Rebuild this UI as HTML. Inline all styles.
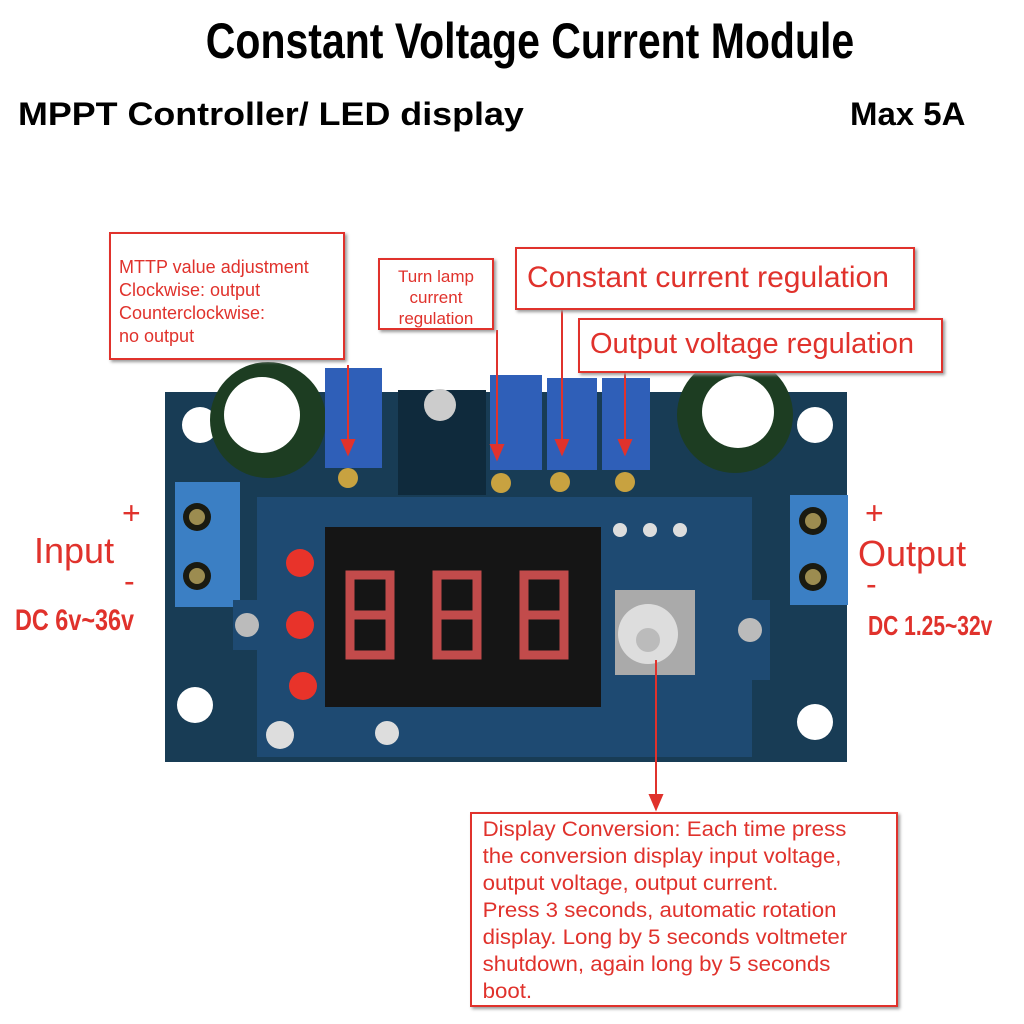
<!DOCTYPE html>
<html><head><style>
body{margin:0;width:1024px;height:1024px;background:#fff;overflow:hidden;position:relative;font-family:"Liberation Sans",sans-serif}
.t{position:absolute;white-space:nowrap}
.box{position:absolute;border:2px solid #e0322c;box-shadow:2px 2px 3px #999;background:#fff;color:#e0322c}
</style></head><body>
<div class="t" style="left:0;width:1060px;text-align:center;top:12px;font-size:50px;font-weight:bold;transform:scaleX(0.82);transform-origin:530px 0">Constant Voltage Current Module</div>
<div class="t" style="left:18px;top:96px;font-size:32px;font-weight:bold;transform:scaleX(1.12);transform-origin:0 0">MPPT Controller/ LED display</div>
<div class="t" style="left:850px;top:96px;font-size:32px;font-weight:bold;transform:scaleX(1.03);transform-origin:0 0">Max 5A</div>

<svg style="position:absolute;left:0;top:0" width="1024" height="1024">
<rect x="165" y="392" width="682" height="370" fill="#183c55"/>
<circle cx="200" cy="425" r="18" fill="#fff"/>
<circle cx="815" cy="425" r="18" fill="#fff"/>
<circle cx="195" cy="705" r="18" fill="#fff"/>
<circle cx="815" cy="722" r="18" fill="#fff"/>
<circle cx="268" cy="420" r="58" fill="#1d3d22"/>
<circle cx="262" cy="415" r="38" fill="#fff"/>
<circle cx="735" cy="415" r="58" fill="#1d3d22"/>
<circle cx="738" cy="412" r="36" fill="#fff"/>
<rect x="325" y="368" width="57" height="100" fill="#2f5fb8"/>
<rect x="490" y="375" width="52" height="95" fill="#2f5fb8"/>
<rect x="547" y="378" width="50" height="92" fill="#2f5fb8"/>
<rect x="602" y="378" width="48" height="92" fill="#2f5fb8"/>
<rect x="398" y="390" width="88" height="105" fill="#0f2a3c"/>
<circle cx="440" cy="405" r="16" fill="#ccc"/>
<circle cx="348" cy="478" r="10" fill="#c8a240"/>
<circle cx="501" cy="483" r="10" fill="#c8a240"/>
<circle cx="560" cy="482" r="10" fill="#c8a240"/>
<circle cx="625" cy="482" r="10" fill="#c8a240"/>
<rect x="175" y="482" width="65" height="125" fill="#3b7fc4"/>
<circle cx="197" cy="517" r="14" fill="#1a1a10"/><circle cx="197" cy="576" r="14" fill="#1a1a10"/>
<circle cx="197" cy="517" r="8" fill="#9c8c50"/><circle cx="197" cy="576" r="8" fill="#9c8c50"/>
<rect x="790" y="495" width="58" height="110" fill="#3b7fc4"/>
<circle cx="813" cy="521" r="14" fill="#1a1a10"/><circle cx="813" cy="577" r="14" fill="#1a1a10"/>
<circle cx="813" cy="521" r="8" fill="#9c8c50"/><circle cx="813" cy="577" r="8" fill="#9c8c50"/>
<rect x="257" y="497" width="495" height="260" fill="#1e4a72"/>
<rect x="233" y="600" width="40" height="50" fill="#1e4a72"/>
<rect x="730" y="600" width="40" height="80" fill="#1e4a72"/>
<circle cx="247" cy="625" r="12" fill="#bbb"/><circle cx="750" cy="630" r="12" fill="#bbb"/>
<rect x="325" y="527" width="276" height="180" fill="#151515"/>
<g stroke="#e05555" stroke-width="9" fill="none" opacity="0.85">
<path d="M350 575h40v40h-40zM350 615v40h40v-40"/>
<path d="M437 575h40v40h-40zM437 615v40h40v-40"/>
<path d="M524 575h40v40h-40zM524 615v40h40v-40"/>
</g>
<circle cx="300" cy="563" r="14" fill="#e8332a"/><circle cx="300" cy="625" r="14" fill="#e8332a"/><circle cx="303" cy="686" r="14" fill="#e8332a"/>
<rect x="615" y="590" width="80" height="85" fill="#aaa"/>
<circle cx="648" cy="634" r="30" fill="#ddd"/><circle cx="648" cy="640" r="12" fill="#bbb"/>
<circle cx="620" cy="530" r="7" fill="#ddd"/><circle cx="650" cy="530" r="7" fill="#ddd"/><circle cx="680" cy="530" r="7" fill="#ddd"/>
<circle cx="280" cy="735" r="14" fill="#ddd"/><circle cx="387" cy="733" r="12" fill="#ddd"/>
<g stroke="#e0322c" stroke-width="2" fill="#e0322c">
<line x1="348" y1="365" x2="348" y2="445"/><path d="M342 440l6 14 6-14z"/>
<line x1="497" y1="330" x2="497" y2="450"/><path d="M491 445l6 14 6-14z"/>
<line x1="562" y1="310" x2="562" y2="445"/><path d="M556 440l6 14 6-14z"/>
<line x1="625" y1="372" x2="625" y2="445"/><path d="M619 440l6 14 6-14z"/>
<line x1="656" y1="660" x2="656" y2="800"/><path d="M650 795l6 14 6-14z"/>
</g>
</svg>

<div class="box" style="left:109px;top:232px;width:236px;height:128px;font-size:18px;line-height:23px;padding:22px 0 0 8px;box-sizing:border-box">MTTP value adjustment<br>Clockwise: output<br>Counterclockwise:<br>no output</div>
<div class="box" style="left:378px;top:258px;width:116px;height:72px;font-size:17px;line-height:21px;text-align:center;padding-top:6px;box-sizing:border-box">Turn lamp<br>current<br>regulation</div>
<div class="box" style="left:515px;top:247px;width:400px;height:63px;font-size:30px;padding:12px 0 0 10px;box-sizing:border-box">Constant current regulation</div>
<div class="box" style="left:578px;top:318px;width:365px;height:55px;font-size:29px;padding:8px 0 0 10px;box-sizing:border-box">Output voltage regulation</div>
<div class="box" style="left:470px;top:812px;width:428px;height:195px;box-sizing:border-box"><div style="font-size:21px;line-height:27px;padding:2px 0 0 10px;white-space:nowrap;transform:scaleX(1.06);transform-origin:0 0">Display Conversion: Each time press<br>the conversion display input voltage,<br>output voltage, output current.<br>Press 3 seconds, automatic rotation<br>display. Long by 5 seconds voltmeter<br>shutdown, again long by 5 seconds<br>boot.</div></div>

<div class="t" style="left:122px;top:495px;font-size:32px;color:#e0322c">+</div>
<div class="t" style="left:34px;top:530px;font-size:36px;color:#e0322c">Input</div>
<div class="t" style="left:124px;top:563px;font-size:32px;color:#e0322c">-</div>
<div class="t" style="left:15px;top:604px;font-size:30px;font-weight:bold;color:#e0322c;transform:scaleX(.78);transform-origin:0 0">DC 6v~36v</div>
<div class="t" style="left:865px;top:495px;font-size:32px;color:#e0322c">+</div>
<div class="t" style="left:858px;top:533px;font-size:36px;color:#e0322c">Output</div>
<div class="t" style="left:866px;top:566px;font-size:32px;color:#e0322c">-</div>
<div class="t" style="left:868px;top:610px;font-size:28px;font-weight:bold;color:#e0322c;transform:scaleX(.75);transform-origin:0 0">DC 1.25~32v</div>
</body></html>
